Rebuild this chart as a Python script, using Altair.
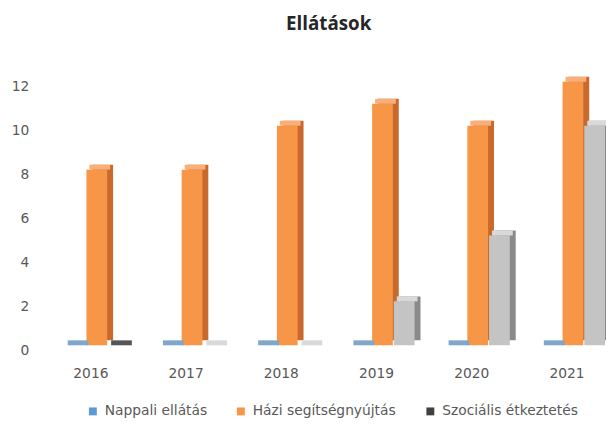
import altair as alt
import pandas as pd

years = ["2016", "2017", "2018", "2019", "2020", "2021"]
series = ["Nappali ellátás", "Házi segítségnyújtás", "Szociális étkeztetés"]
nappali = [0, 0, 0, 0, 0, 0]
hazi = [8, 8, 10, 11, 10, 12]
szocialis = [0, 0, 0, 2, 5, 10]

rows = []
for s, vals in zip(series, [nappali, hazi, szocialis]):
    for y, v in zip(years, vals):
        rows.append({"year": y, "series": s, "value": v})
df = pd.DataFrame(rows)

FONT = "DejaVu Sans"
TXT = "#595959"
BAR_W = 21
OFFSETS = [-22, 0, 22]

x_enc = alt.X(
    "year:N", sort=years,
    scale=alt.Scale(range=[5.75, 584.75], paddingInner=0, paddingOuter=0),
    axis=alt.Axis(title=None, labelAngle=0, ticks=False, domain=False, grid=False,
                  labelPadding=22, labelOffset=-6, labelFontSize=14,
                  labelColor=TXT, labelFont=FONT),
)
y_scale = alt.Scale(domain=[0, 12])
y_axis = alt.Axis(title=None, values=[0, 2, 4, 6, 8, 10, 12], grid=False, ticks=False,
                  domain=False, labelPadding=15, labelOffset=5, labelFontSize=14,
                  labelColor=TXT, labelFont=FONT)
y_enc = alt.Y("value:Q", scale=y_scale, axis=y_axis)

gray_2016 = "datum.year === '2016'"

side_cols = ["#4A7CAA", "#C86A2C", "#8A8A8A"]
top_cols = ["#7FA6CB", "#FAAE78", "#D9D9D9"]

color_enc = alt.Color(
    "series:N", sort=series,
    scale=alt.Scale(domain=series, range=["#5B9BD5", "#F79646", "#404040"]),
    legend=alt.Legend(title=None, orient="none", legendX=43, legendY=327,
                      direction="horizontal", symbolType="square",
                      symbolSize=64, symbolStrokeWidth=0,
                      labelFont=FONT, labelFontSize=14, labelColor=TXT,
                      columnPadding=27, labelOffset=5),
)

sides, fronts, tops = [], [], []
for i, s in enumerate(series):
    b = alt.Chart(df).transform_filter(alt.datum.series == s)
    off = OFFSETS[i]
    if i == 2:
        side_fill = alt.value(side_cols[i], condition=[{"test": gray_2016, "value": "#2A2A2A"}])
        top_fill = alt.value(top_cols[i], condition=[{"test": gray_2016, "value": "#555555"}])
        front_col = alt.condition("datum.year !== '2016'", alt.value("#C4C4C4"), color_enc)
    else:
        side_fill = alt.value(side_cols[i])
        top_fill = alt.value(top_cols[i])
        front_col = color_enc
    sides.append(b.mark_bar(size=BAR_W, xOffset=off + 6, yOffset=-5).encode(
        x=x_enc, y=y_enc, fill=side_fill))
    fronts.append(b.mark_bar(size=BAR_W, xOffset=off).encode(
        x=x_enc, y=y_enc, color=front_col))
    tops.append(b.mark_bar(size=BAR_W, xOffset=off + 3, yOffset=-5).encode(
        x=x_enc, y=y_enc, y2="value:Q", fill=top_fill))

chart = alt.layer(*sides, *fronts, *tops).properties(
    width=562, height=267,
    title=alt.Title("Ellátások", fontSize=19, font="Open Sans", fontWeight="bold",
                    color="#262626", dx=8, offset=43),
    padding={"left": 36, "top": 72, "right": 8, "bottom": 79},
    autosize=alt.AutoSizeParams(type="none"),
).configure_view(stroke=None)

chart.save("out.html", embed_options={"renderer": "svg", "actions": False})
